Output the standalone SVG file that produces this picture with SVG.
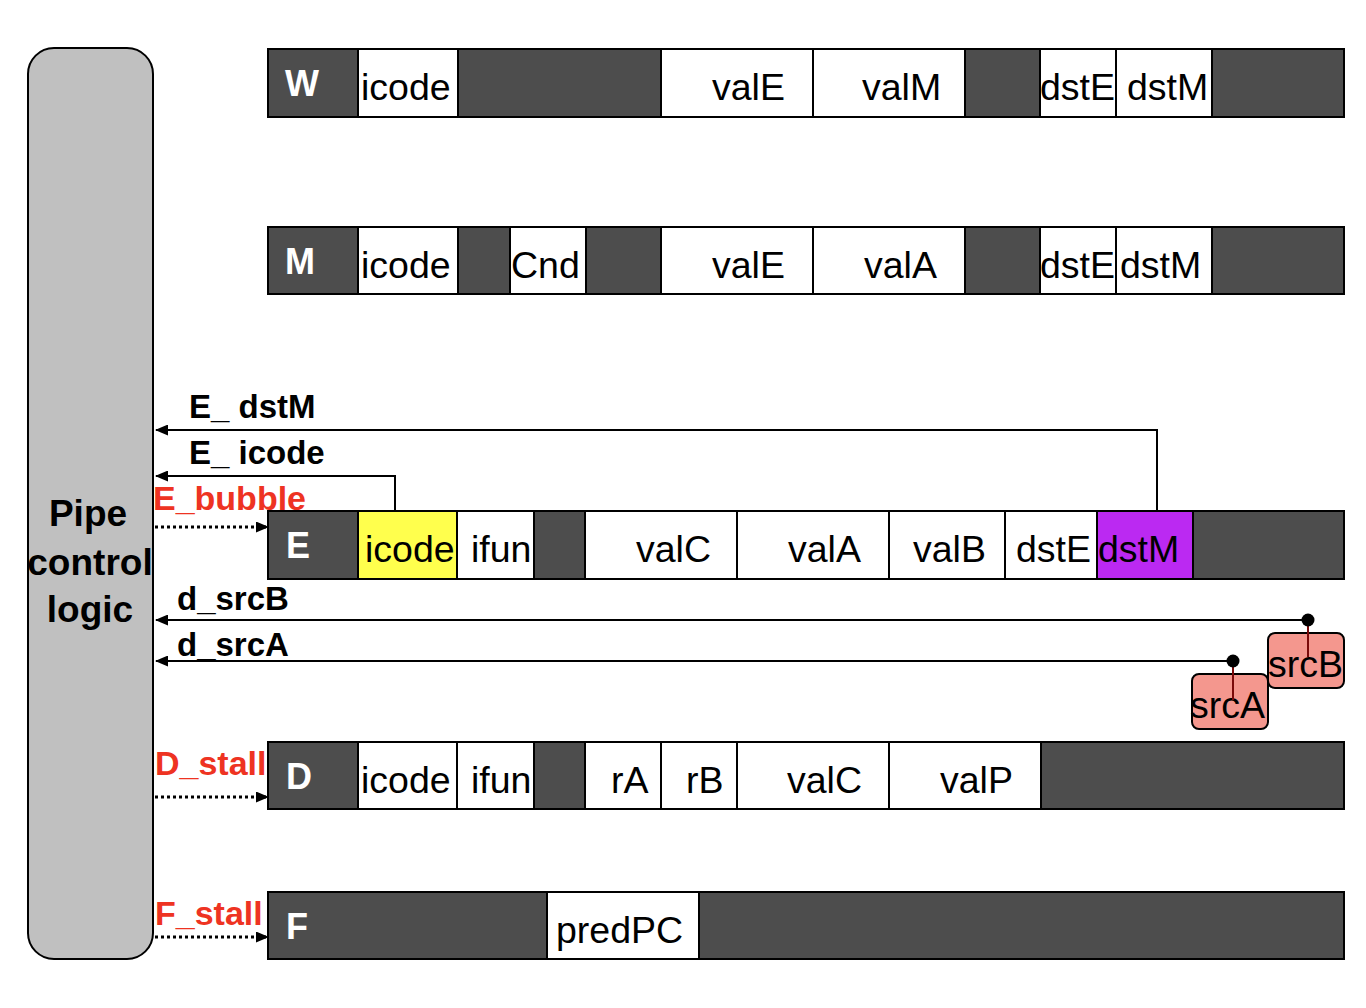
<svg xmlns="http://www.w3.org/2000/svg" width="1366" height="1008" viewBox="0 0 1366 1008">
<defs>
<style>
.bg{fill:#ffffff}
.dk{fill:#4d4d4d;stroke:#000;stroke-width:2}
.wt{fill:#ffffff;stroke:#000;stroke-width:2}
.yl{fill:#ffff4d;stroke:#000;stroke-width:2}
.pu{fill:#bb29f2;stroke:#000;stroke-width:2}
.cell{font-family:"Liberation Sans",Arial,sans-serif;font-size:37.5px;fill:#000}
.stg{font-family:"Liberation Sans",Arial,sans-serif;font-size:36px;font-weight:bold;fill:#fff}
.sig{font-family:"Liberation Sans",Arial,sans-serif;font-size:33px;font-weight:bold;fill:#000}
.ctl{font-family:"Liberation Sans",Arial,sans-serif;font-size:34px;font-weight:bold;fill:#ee3322}
.pipe{font-family:"Liberation Sans",Arial,sans-serif;font-size:37px;font-weight:bold;fill:#000;text-anchor:middle}
.ln{fill:none;stroke:#000;stroke-width:2}
.dot{fill:none;stroke:#000;stroke-width:3;stroke-dasharray:3 3}
.src{fill:#f4978e;stroke:#000;stroke-width:2}
.tap{stroke:#7a0a0a;stroke-width:2}
</style>
<marker id="ah" markerWidth="13" markerHeight="11" refX="12" refY="5.5" orient="auto" markerUnits="userSpaceOnUse">
<path d="M0,0 L13,5.5 L0,11 Z" fill="#000"/>
</marker>
</defs>
<rect class="bg" x="0" y="0" width="1366" height="1008"/>

<g id="pipe-control">
<rect x="28" y="48" width="125" height="911" rx="26" ry="26" fill="#c0c0c0" stroke="#000" stroke-width="2"/>
<text class="pipe" x="88" y="526">Pipe</text>
<text class="pipe" x="90" y="575">control</text>
<text class="pipe" x="90" y="622">logic</text>
</g>

<g id="stage-W">
<rect class="dk" x="268" y="49" width="90" height="68"/>
<rect class="wt" x="358" y="49" width="100" height="68"/>
<rect class="dk" x="458" y="49" width="203" height="68"/>
<rect class="wt" x="661" y="49" width="152" height="68"/>
<rect class="wt" x="813" y="49" width="152" height="68"/>
<rect class="dk" x="965" y="49" width="75" height="68"/>
<rect class="wt" x="1040" y="49" width="76" height="68"/>
<rect class="wt" x="1116" y="49" width="96" height="68"/>
<rect class="dk" x="1212" y="49" width="132" height="68"/>
<text class="stg" x="285" y="96">W</text>
<text class="cell" x="361" y="100">icode</text>
<text class="cell" x="712" y="100">valE</text>
<text class="cell" x="862" y="100">valM</text>
<text class="cell" x="1040" y="100">dstE</text>
<text class="cell" x="1127" y="100">dstM</text>
</g>

<g id="stage-M">
<rect class="dk" x="268" y="227" width="90" height="67"/>
<rect class="wt" x="358" y="227" width="100" height="67"/>
<rect class="dk" x="458" y="227" width="52" height="67"/>
<rect class="wt" x="510" y="227" width="76" height="67"/>
<rect class="dk" x="586" y="227" width="75" height="67"/>
<rect class="wt" x="661" y="227" width="152" height="67"/>
<rect class="wt" x="813" y="227" width="152" height="67"/>
<rect class="dk" x="965" y="227" width="75" height="67"/>
<rect class="wt" x="1040" y="227" width="76" height="67"/>
<rect class="wt" x="1116" y="227" width="96" height="67"/>
<rect class="dk" x="1212" y="227" width="132" height="67"/>
<text class="stg" x="285" y="274">M</text>
<text class="cell" x="361" y="278">icode</text>
<text class="cell" x="511" y="278">Cnd</text>
<text class="cell" x="712" y="278">valE</text>
<text class="cell" x="864" y="278">valA</text>
<text class="cell" x="1040" y="278">dstE</text>
<text class="cell" x="1120" y="278">dstM</text>
</g>

<g id="stage-E">
<rect class="dk" x="268" y="511" width="90" height="68"/>
<rect class="yl" x="358" y="511" width="99" height="68"/>
<rect class="wt" x="457" y="511" width="77" height="68"/>
<rect class="dk" x="534" y="511" width="51" height="68"/>
<rect class="wt" x="585" y="511" width="152" height="68"/>
<rect class="wt" x="737" y="511" width="152" height="68"/>
<rect class="wt" x="889" y="511" width="116" height="68"/>
<rect class="wt" x="1005" y="511" width="92" height="68"/>
<rect class="pu" x="1097" y="511" width="96" height="68"/>
<rect class="dk" x="1193" y="511" width="151" height="68"/>
<text class="stg" x="286" y="558">E</text>
<text class="cell" x="365" y="562">icode</text>
<text class="cell" x="471" y="562">ifun</text>
<text class="cell" x="636" y="562">valC</text>
<text class="cell" x="788" y="562">valA</text>
<text class="cell" x="913" y="562">valB</text>
<text class="cell" x="1016" y="562">dstE</text>
<text class="cell" x="1098" y="562">dstM</text>
</g>

<g id="stage-D">
<rect class="dk" x="268" y="742" width="90" height="67"/>
<rect class="wt" x="358" y="742" width="99" height="67"/>
<rect class="wt" x="457" y="742" width="77" height="67"/>
<rect class="dk" x="534" y="742" width="51" height="67"/>
<rect class="wt" x="585" y="742" width="76" height="67"/>
<rect class="wt" x="661" y="742" width="76" height="67"/>
<rect class="wt" x="737" y="742" width="152" height="67"/>
<rect class="wt" x="889" y="742" width="152" height="67"/>
<rect class="dk" x="1041" y="742" width="303" height="67"/>
<text class="stg" x="286" y="789">D</text>
<text class="cell" x="361" y="793">icode</text>
<text class="cell" x="471" y="793">ifun</text>
<text class="cell" x="611" y="793">rA</text>
<text class="cell" x="686" y="793">rB</text>
<text class="cell" x="787" y="793">valC</text>
<text class="cell" x="940" y="793">valP</text>
</g>

<g id="stage-F">
<rect class="dk" x="268" y="892" width="279" height="67"/>
<rect class="wt" x="547" y="892" width="152" height="67"/>
<rect class="dk" x="699" y="892" width="645" height="67"/>
<text class="stg" x="286" y="939">F</text>
<text class="cell" x="556" y="943">predPC</text>
</g>

<g id="srcB">
<rect class="src" x="1268" y="633" width="76" height="55" rx="7" ry="7"/>
<text class="cell" x="1268" y="677">srcB</text>
</g>
<g id="srcA">
<rect class="src" x="1192" y="674" width="76" height="55" rx="7" ry="7"/>
<text class="cell" x="1190" y="718">srcA</text>
</g>

<g id="connectors">
<polyline class="ln" points="1157,511 1157,430 156,430" marker-end="url(#ah)"/>
<polyline class="ln" points="395,511 395,476 156,476" marker-end="url(#ah)"/>
<line class="ln" x1="1308" y1="620" x2="156" y2="620" marker-end="url(#ah)"/>
<line class="ln" x1="1233" y1="661" x2="156" y2="661" marker-end="url(#ah)"/>
<line class="tap" x1="1308" y1="620" x2="1308" y2="657"/>
<line class="tap" x1="1233" y1="661" x2="1233" y2="700"/>
<circle cx="1308" cy="620" r="6.5" fill="#000"/>
<circle cx="1233" cy="661" r="6.5" fill="#000"/>
<line class="dot" x1="155" y1="527" x2="268" y2="527" marker-end="url(#ah)"/>
<line class="dot" x1="155" y1="797" x2="268" y2="797" marker-end="url(#ah)"/>
<line class="dot" x1="155" y1="937" x2="268" y2="937" marker-end="url(#ah)"/>
</g>

<g id="labels">
<text class="sig" x="189" y="418">E_ dstM</text>
<text class="sig" x="189" y="464">E_ icode</text>
<text class="ctl" x="153" y="510">E_bubble</text>
<text class="sig" x="177" y="610">d_srcB</text>
<text class="sig" x="177" y="656">d_srcA</text>
<text class="ctl" x="155" y="775">D_stall</text>
<text class="ctl" x="155" y="925">F_stall</text>
</g>
</svg>
